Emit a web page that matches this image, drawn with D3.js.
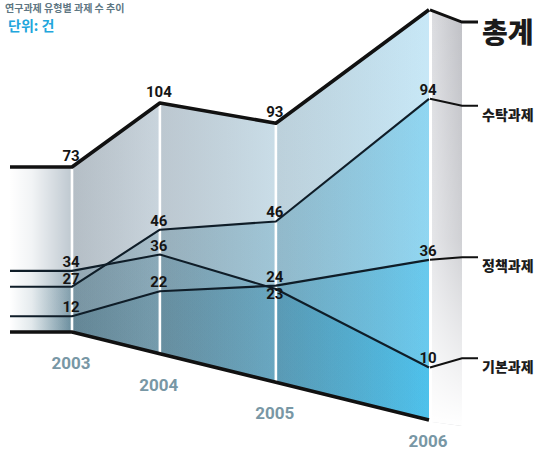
<!DOCTYPE html>
<html><head><meta charset="utf-8">
<script src="https://cdn.jsdelivr.net/npm/d3@7"></script>
<style>html,body{margin:0;padding:0;background:#fff;overflow:hidden}</style>
</head><body>
<svg id="chart" width="543" height="452"></svg>
<script>
// ---------------- data ----------------
const years = [2003, 2004, 2005, 2006];
const totals = [73, 104, 93, 140];           // 총계 (2006 value not printed in the original)
const totalPrinted = [true, true, true, false];
const suTak = [27, 46, 46, 94];              // 수탁과제
const jeongChaek = [12, 22, 24, 36];         // 정책과제
const gibon = [34, 36, 23, 10];              // 기본과제
const seriesNames = ['수탁과제', '정책과제', '기본과제'];
const totalName = '총계';
const unitLabel = '단위: 건';
const titleText = '연구과제 유형별 과제 수 추이';

// ---------------- layout ----------------
const W = 543, H = 452;
const stubX = 10;
const colFirst = 72, colLast = 429;
const depthRatio = 1.32;                                   // perspective growth of column spacing
const floorRange = [332, 420];                             // floor line at first / last column
const colUnit = [2.26, 2.41, 2.785, 2.93];                 // px per unit (perspective magnification)
const colCurve = [{type: 'pow', k: 1.3}, {type: 'symlog', k: 200}, {type: 'symlog', k: 50}, {type: 'symlog', k: 60}];
const sideW = 33;

const svg = d3.select('#chart');
const defs = svg.append('defs');

const xDepth = d3.scaleLinear().domain([1, Math.pow(depthRatio, years.length - 1)]).range([colFirst, colLast]);
const colX = i => xDepth(Math.pow(depthRatio, i));
const floorY = d3.scaleLinear().domain([colFirst, colLast]).range(floorRange);

const yScales = years.map((yr, i) => {
  const c = colCurve[i];
  const s = c.type === 'pow' ? d3.scalePow().exponent(c.k) : d3.scaleSymlog().constant(c.k);
  const b = floorY(colX(i));
  return s.domain([0, totals[i]]).range([b, b - colUnit[i] * totals[i]]);
});

const seriesVals = [suTak, jeongChaek, gibon];
const pts = vals => vals.map((v, i) => [colX(i), yScales[i](v)]);
const floorPts = years.map((y, i) => [colX(i), floorY(colX(i))]);
const withStub = p => [[stubX, p[0][1]], ...p];
const floorWithStub = withStub(floorPts);

// ---------------- gradients ----------------
function hGrad(id, stops) {
  const g = defs.append('linearGradient').attr('id', id)
    .attr('gradientUnits', 'userSpaceOnUse')
    .attr('x1', colFirst).attr('x2', colLast).attr('y1', 0).attr('y2', 0);
  stops.forEach(s => g.append('stop').attr('offset', s[0]).attr('stop-color', s[1]).attr('stop-opacity', s[2] == null ? 1 : s[2]));
}
hGrad('gBase', [[0, '#bec8d0'], [0.25, '#c6d2db'], [0.57, '#c6dbe6'], [1, '#c4e6f6']]);
hGrad('gOver', [[0, 'rgb(30,88,112)', 0.22], [0.25, 'rgb(28,95,122)', 0.22], [0.57, 'rgb(20,120,160)', 0.25], [1, 'rgb(0,168,228)', 0.3]]);

const fade = defs.append('linearGradient').attr('id', 'gFade')
  .attr('gradientUnits', 'userSpaceOnUse').attr('x1', stubX).attr('x2', colFirst).attr('y1', 0).attr('y2', 0);
fade.append('stop').attr('offset', 0).attr('stop-color', '#fff').attr('stop-opacity', 1);
fade.append('stop').attr('offset', 0.35).attr('stop-color', '#fff').attr('stop-opacity', 0.8);
fade.append('stop').attr('offset', 1).attr('stop-color', '#fff').attr('stop-opacity', 0);

const side = defs.append('linearGradient').attr('id', 'gSide').attr('x1', 0).attr('x2', 1).attr('y1', 0).attr('y2', 0);
side.append('stop').attr('offset', 0).attr('stop-color', '#dcdde1');
side.append('stop').attr('offset', 1).attr('stop-color', '#c0c1c6');
const sideFade = defs.append('linearGradient').attr('id', 'gSideFade').attr('x1', 0).attr('x2', 0).attr('y1', 0).attr('y2', 1);
sideFade.append('stop').attr('offset', 0).attr('stop-color', '#fff').attr('stop-opacity', 0);
sideFade.append('stop').attr('offset', 0.55).attr('stop-color', '#fff').attr('stop-opacity', 0.25);
sideFade.append('stop').attr('offset', 1).attr('stop-color', '#fff').attr('stop-opacity', 1);

const panelShade = defs.append('linearGradient').attr('id', 'gPanel').attr('x1', 0).attr('x2', 1).attr('y1', 0).attr('y2', 0);
panelShade.append('stop').attr('offset', 0).attr('stop-color', '#000').attr('stop-opacity', 0.05);
panelShade.append('stop').attr('offset', 1).attr('stop-color', '#fff').attr('stop-opacity', 0.06);

// ---------------- areas ----------------
const poly = p => 'M' + p.map(d => d.join(',')).join('L') + 'Z';
const totalPts = withStub(pts(totals));
svg.append('path').attr('d', poly([...totalPts, ...floorWithStub.slice().reverse()])).attr('fill', 'url(#gBase)');
seriesVals.forEach(vals => {
  const p = withStub(pts(vals));
  svg.append('path').attr('d', poly([...p, ...floorWithStub.slice().reverse()])).attr('fill', 'url(#gOver)');
});
// panel folds
for (let i = 0; i < years.length - 1; i++) {
  const tp = pts(totals);
  svg.append('path').attr('d', poly([tp[i], tp[i + 1], floorPts[i + 1], floorPts[i]]))
    .attr('fill', 'url(#gPanel)');
}
// stub fade
svg.append('rect').attr('x', stubX - 2).attr('y', totalPts[0][1] - 4)
  .attr('width', colFirst - stubX + 2).attr('height', floorWithStub[0][1] - totalPts[0][1] + 8)
  .attr('fill', 'url(#gFade)');

// column dividers
years.forEach((y, i) => {
  svg.append('line').attr('x1', colX(i) + (i === years.length - 1 ? 1.5 : 0)).attr('x2', colX(i) + (i === years.length - 1 ? 1.5 : 0))
    .attr('y1', yScales[i](totals[i]) + 1).attr('y2', floorPts[i][1] + 2)
    .attr('stroke', '#fff').attr('stroke-width', 2.6);
});

// side panel of last column
const lastI = years.length - 1;
const vp = 215, conv = 0.94;
const leaderY = y => vp + (y - vp) * conv;
const lx = colX(lastI) + 3, rx = colX(lastI) + sideW;
const topLast = yScales[lastI](totals[lastI]);
const sidePath = poly([[lx, topLast], [rx, leaderY(topLast)], [rx, floorPts[lastI][1] + 6], [lx, floorPts[lastI][1] + 2]]);
svg.append('path').attr('d', sidePath).attr('fill', 'url(#gSide)');
svg.append('path').attr('d', sidePath).attr('fill', 'url(#gSideFade)');

// ---------------- lines ----------------
const line = d3.line();
svg.append('path').attr('d', line(floorWithStub)).attr('fill', 'none')
  .attr('stroke', '#111').attr('stroke-width', 3.6);
seriesVals.forEach(vals => {
  svg.append('path').attr('d', line(withStub(pts(vals)))).attr('fill', 'none')
    .attr('stroke', '#0f1d28').attr('stroke-width', 2.1).attr('stroke-linejoin', 'round');
});
svg.append('path').attr('d', line(totalPts)).attr('fill', 'none')
  .attr('stroke', '#111').attr('stroke-width', 3.6).attr('stroke-linejoin', 'round');

// leaders + right labels
const rightItems = [
  {name: totalName, y: topLast, size: 28, w: 3},
  ...seriesVals.map((vals, k) => ({name: seriesNames[k], y: yScales[lastI](vals[lastI]), size: 14, w: 2}))
];
rightItems.forEach(it => {
  const ly = leaderY(it.y);
  svg.append('path').attr('d', line([[colX(lastI) + 1, it.y], [rx, ly], [rx + 16, ly]]))
    .attr('fill', 'none').attr('stroke', '#111').attr('stroke-width', it.w);
  svg.append('text').attr('x', rx + 20).attr('y', ly + (it.size > 20 ? 9 : 8))
    .attr('dominant-baseline', 'central')
    .attr('font-family', "'Noto Sans CJK KR', sans-serif").attr('font-weight', 900)
    .attr('font-size', it.size).attr('fill', '#1b1b1b').text(it.name);
});

// ---------------- value labels ----------------
const numFont = "Roboto, 'Liberation Sans', sans-serif";
years.forEach((yr, i) => {
  const labels = [];
  if (totalPrinted[i]) labels.push({v: totals[i], y: yScales[i](totals[i]) - 6});
  seriesVals.forEach(vals => labels.push({v: vals[i], y: yScales[i](vals[i]) - 4}));
  labels.sort((a, b) => a.y - b.y);
  for (let k = 1; k < labels.length; k++) {
    if (labels[k].y - labels[k - 1].y < 16) labels[k].y = labels[k - 1].y + 17;
  }
  labels.forEach(l => {
    svg.append('text').attr('x', colX(i) - 1).attr('y', l.y)
      .attr('text-anchor', 'middle').attr('font-family', numFont).attr('font-weight', 700)
      .attr('font-size', 15).attr('fill', '#151515').text(l.v);
  });
  // year label
  svg.append('text').attr('x', colX(i) - 1).attr('y', Math.min(floorPts[i][1] + 37, H - 5))
    .attr('text-anchor', 'middle').attr('font-family', numFont).attr('font-weight', 700)
    .attr('font-size', 17).attr('fill', '#7897a5').text(yr);
});

// ---------------- titles ----------------
svg.append('text').attr('x', 5).attr('y', 12)
  .attr('font-family', "'Noto Sans CJK KR', sans-serif").attr('font-weight', 700)
  .attr('font-size', 10).attr('fill', '#5d7682').text(titleText);
svg.append('text').attr('x', 8).attr('y', 31)
  .attr('font-family', "'Noto Sans CJK KR', sans-serif").attr('font-weight', 700)
  .attr('font-size', 14).attr('fill', '#22a6dc').text(unitLabel);
</script>
</body></html>
